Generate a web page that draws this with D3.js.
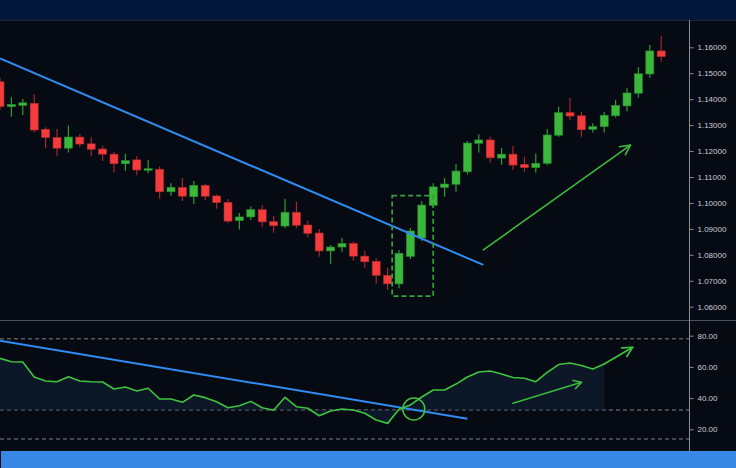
<!DOCTYPE html>
<html><head><meta charset="utf-8">
<script src="https://cdn.jsdelivr.net/npm/d3@7"></script>
<style>html,body{margin:0;padding:0;background:#060a13;overflow:hidden}svg{display:block}</style>
</head><body><svg id="c" width="736" height="468"></svg>
<script>
// ---- data ----
const opens  = [1.1467,1.1371,1.1376,1.1384,1.1284,1.1252,1.1211,1.1254,1.1228,1.1208,1.1188,1.1151,1.1166,1.1126,1.1130,1.1043,1.1060,1.1024,1.1068,1.1027,1.1002,1.0932,1.0946,1.0974,1.0928,1.0911,1.0964,1.0915,1.0884,1.0815,1.0830,1.0844,1.0795,1.0775,1.0721,1.0688,1.0794,1.0865,1.0991,1.1060,1.1072,1.1120,1.1230,1.1243,1.1173,1.1188,1.1149,1.1136,1.1153,1.1261,1.1348,1.1336,1.1284,1.1294,1.1336,1.1374,1.1423,1.1497,1.1586];
const closes = [1.1371,1.1380,1.1386,1.1281,1.1252,1.1211,1.1254,1.1227,1.1207,1.1188,1.1151,1.1163,1.1127,1.1132,1.1043,1.1060,1.1026,1.1068,1.1026,1.1001,1.0930,1.0946,1.0974,1.0927,1.0912,1.0964,1.0914,1.0883,1.0815,1.0830,1.0844,1.0795,1.0773,1.0721,1.0688,1.0806,1.0892,1.0992,1.1062,1.1073,1.1123,1.1231,1.1243,1.1174,1.1188,1.1146,1.1136,1.1153,1.1262,1.1348,1.1335,1.1282,1.1294,1.1338,1.1376,1.1424,1.1498,1.1586,1.1564];
const highs  = [1.1482,1.1407,1.1401,1.1420,1.1292,1.1285,1.1299,1.1266,1.1253,1.1220,1.1196,1.1190,1.1181,1.1166,1.1140,1.1076,1.1096,1.1085,1.1073,1.1033,1.1015,1.0961,1.0986,1.0992,1.0950,1.1015,1.1005,1.0932,1.0900,1.0838,1.0866,1.0851,1.0815,1.0787,1.0750,1.0819,1.0903,1.1007,1.1076,1.1096,1.1150,1.1239,1.1265,1.1255,1.1212,1.1220,1.1178,1.1191,1.1284,1.1371,1.1405,1.1351,1.1307,1.1351,1.1397,1.1442,1.1524,1.1609,1.1644];
const lows   = [1.1358,1.1332,1.1339,1.1272,1.1211,1.1182,1.1194,1.1215,1.1181,1.1162,1.1117,1.1124,1.1107,1.1114,1.1016,1.1028,1.1007,1.0996,1.1011,1.0978,1.0922,1.0898,1.0934,1.0908,1.0885,1.0902,1.0902,1.0868,1.0793,1.0765,1.0812,1.0777,1.0750,1.0688,1.0664,1.0671,1.0784,1.0853,1.0981,1.1024,1.1043,1.1110,1.1194,1.1155,1.1147,1.1127,1.1120,1.1117,1.1145,1.1255,1.1320,1.1255,1.1272,1.1272,1.1329,1.1353,1.1406,1.1483,1.1545];
const rsi    = [65.5,63.3,63.1,53.5,51.0,50.5,53.7,51.0,50.5,50.3,45.8,47.1,44.6,46.3,39.4,39.4,37.3,42.0,40.3,37.7,33.8,35.1,37.9,33.8,32.2,40.5,34.5,33.5,28.7,31.7,33.0,32.4,30.3,26.0,23.8,32.8,35.6,40.7,45.2,45.2,49.0,53.5,56.7,57.4,55.4,53.2,52.7,50.5,56.5,61.5,62.5,60.9,58.7,61.9];
const priceTicks = [1.06,1.07,1.08,1.09,1.10,1.11,1.12,1.13,1.14,1.15,1.16];
const rsiTicks   = [20,40,60,80];
const rsiLevels  = [78,32.4,13.8];
// annotations (index, value)
const priceTrend = [[0,1.1557],[42.4,1.0761]];
const priceArrow = [[42.4,1.0819],[55.3,1.1223]];
const breakoutBox = [[34.4,1.1028],[38.0,1.0641]];
const rsiTrend   = [[0,76.8],[41.0,26.8]];
const rsiArrow   = [[45.0,36.7],[51.0,50.1]];
const rsiTip     = [55.5,72.6];
const rsiCircle  = [36.3,33.0];

// ---- layout ----
const svg = d3.select('#c');
const W = 736, H = 468, axisX = 689;
const x  = d3.scaleLinear().domain([0,58]).range([0,661.2]);
const y  = d3.scaleLinear().domain([1.06,1.16]).range([306.7,47.3]);
const yr = d3.scaleLinear().domain([20,80]).range([429.3,335.7]);

svg.append('rect').attr('width',W).attr('height',H).attr('fill','#060a13');
svg.append('rect').attr('width',W).attr('height',20).attr('fill','#03183a');
svg.append('line').attr('x1',0).attr('x2',W).attr('y1',20.5).attr('y2',20.5).attr('stroke','#1c2536');

const defs = svg.append('defs');
defs.append('clipPath').attr('id','cp').append('rect').attr('x',0).attr('y',21).attr('width',axisX).attr('height',299);
defs.append('clipPath').attr('id','cr').append('rect').attr('x',0).attr('y',321).attr('width',axisX).attr('height',130);

const green='#3bb83b', greenD='#2a8a2e', red='#f43c3c', redD='#b02a2a';

// price panel
const gp = svg.append('g').attr('clip-path','url(#cp)');
const idx = d3.range(opens.length);
gp.selectAll('line.w').data(idx).join('line')
  .attr('x1',i=>x(i)).attr('x2',i=>x(i))
  .attr('y1',i=>y(highs[i])).attr('y2',i=>y(lows[i]))
  .attr('stroke',i=>closes[i]>=opens[i]?'#2f9a35':'#a8262b').attr('stroke-width',1.2);
gp.selectAll('rect.b').data(idx).join('rect')
  .attr('x',i=>x(i)-4).attr('width',8)
  .attr('y',i=>y(Math.max(opens[i],closes[i])))
  .attr('height',i=>Math.max(1.5,Math.abs(y(opens[i])-y(closes[i]))))
  .attr('fill',i=>closes[i]>=opens[i]?green:red)
  .attr('stroke',i=>closes[i]>=opens[i]?greenD:redD).attr('stroke-width',0.6);

gp.append('line')
  .attr('x1',x(priceTrend[0][0])).attr('y1',y(priceTrend[0][1]))
  .attr('x2',x(priceTrend[1][0])).attr('y2',y(priceTrend[1][1]))
  .attr('stroke','#2e8cf2').attr('stroke-width',2);

gp.append('rect')
  .attr('x',x(breakoutBox[0][0])).attr('y',y(breakoutBox[0][1]))
  .attr('width',x(breakoutBox[1][0])-x(breakoutBox[0][0]))
  .attr('height',y(breakoutBox[1][1])-y(breakoutBox[0][1]))
  .attr('fill','none').attr('stroke','#34a23a').attr('stroke-width',1.7).attr('stroke-dasharray','5,3');

function arrow(g,x1,y1,x2,y2,len,ang,col,w){
  g.append('line').attr('x1',x1).attr('y1',y1).attr('x2',x2).attr('y2',y2)
    .attr('stroke',col).attr('stroke-width',w).attr('stroke-linecap','round');
  const a = Math.atan2(y1-y2,x1-x2), r = ang*Math.PI/180;
  const p = [[x2+len*Math.cos(a+r),y2+len*Math.sin(a+r)],[x2,y2],[x2+len*Math.cos(a-r),y2+len*Math.sin(a-r)]];
  g.append('path').attr('d',d3.line()(p)).attr('fill','none').attr('stroke',col)
    .attr('stroke-width',w).attr('stroke-linecap','round').attr('stroke-linejoin','round');
}
arrow(gp,x(priceArrow[0][0]),y(priceArrow[0][1]),x(priceArrow[1][0]),y(priceArrow[1][1]),11,27,'#3cb83c',1.6);

// separator
svg.append('line').attr('x1',0).attr('x2',W).attr('y1',320.5).attr('y2',320.5).attr('stroke','#4a4f59').attr('stroke-width',1);

// rsi panel
const gr = svg.append('g').attr('clip-path','url(#cr)');
gr.selectAll('line.lv').data(rsiLevels).join('line')
  .attr('x1',0).attr('x2',axisX).attr('y1',d=>yr(d)).attr('y2',d=>yr(d))
  .attr('stroke','#7d828c').attr('stroke-width',1).attr('stroke-dasharray','4,3');
gr.append('path').datum(rsi)
  .attr('d',d3.area().x((d,i)=>x(i)).y0(yr(rsiLevels[1])).y1(d=>yr(d)))
  .attr('fill','#12253a').attr('opacity',0.55);
gr.append('line')
  .attr('x1',x(rsiTrend[0][0])).attr('y1',yr(rsiTrend[0][1]))
  .attr('x2',x(rsiTrend[1][0])).attr('y2',yr(rsiTrend[1][1]))
  .attr('stroke','#2e8cf2').attr('stroke-width',2);
gr.append('path').datum(rsi)
  .attr('d',d3.line().x((d,i)=>x(i)).y(d=>yr(d)))
  .attr('fill','none').attr('stroke','#3ec43e').attr('stroke-width',1.6).attr('stroke-linejoin','round');
const last = rsi.length-1;
arrow(gr,x(last),yr(rsi[last]),x(rsiTip[0]),yr(rsiTip[1]),11,27,'#3ec43e',1.6);
arrow(gr,x(rsiArrow[0][0]),yr(rsiArrow[0][1]),x(rsiArrow[1][0]),yr(rsiArrow[1][1]),8.5,30,'#3cb83c',1.6);
gr.append('circle').attr('cx',x(rsiCircle[0])).attr('cy',yr(rsiCircle[1])).attr('r',11)
  .attr('fill','none').attr('stroke','#3ec43e').attr('stroke-width',1.5);

// axes
svg.append('line').attr('x1',axisX+0.5).attr('x2',axisX+0.5).attr('y1',20).attr('y2',451).attr('stroke','#8a8e96').attr('stroke-width',1);
function styleAxis(g){
  g.select('.domain').remove();
  g.selectAll('.tick line').attr('stroke','#8a8e96');
  g.selectAll('.tick text').attr('fill','#c9cdd4').attr('font-family','Liberation Sans, Arial, sans-serif').attr('font-size','8px');
}
svg.append('g').attr('transform',`translate(${axisX+0.5},0)`)
  .call(d3.axisRight(y).tickValues(priceTicks).tickSize(4).tickPadding(4).tickFormat(d3.format('.5f')))
  .call(styleAxis);
svg.append('g').attr('transform',`translate(${axisX+0.5},0)`)
  .call(d3.axisRight(yr).tickValues(rsiTicks).tickSize(4).tickPadding(4).tickFormat(d3.format('.2f')))
  .call(styleAxis);

// bottom bar
svg.append('rect').attr('x',1).attr('y',451).attr('width',W-1).attr('height',H-451).attr('fill','#3889e6');
</script></body></html>
